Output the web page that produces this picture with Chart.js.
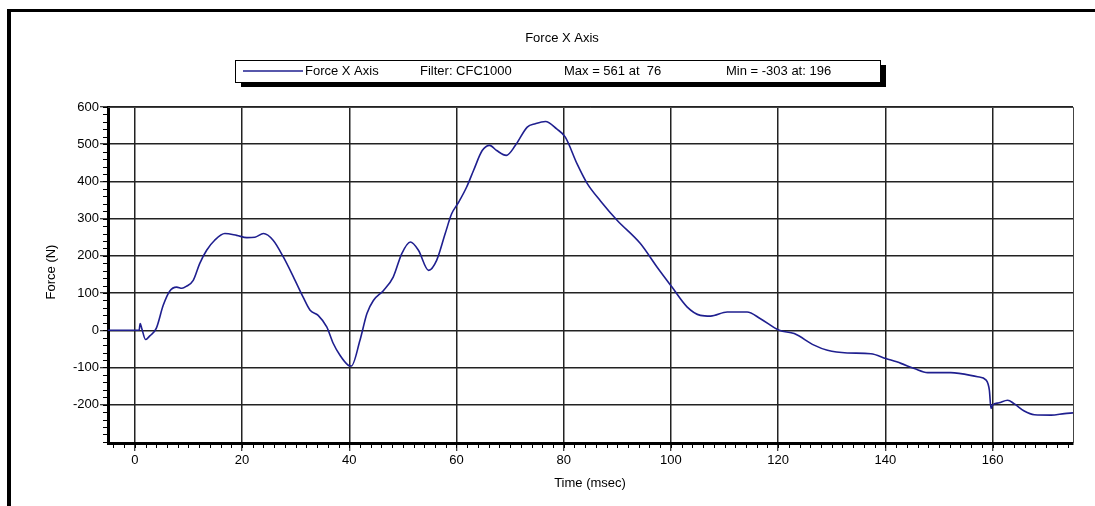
<!DOCTYPE html>
<html>
<head>
<meta charset="utf-8">
<script src="https://cdn.jsdelivr.net/npm/chart.js@4"></script>
<style>
  html, body { margin: 0; padding: 0; background: #fff; }
  #wrap { width: 1095px; height: 506px; }
</style>
</head>
<body>
<div id="wrap"><canvas id="forceChart" width="1095" height="506"></canvas></div>
<script>
// Force X Axis
const timeMs = [
  -5, 0.8, 1.0, 1.3, 2.0, 2.8, 4.0, 5.3, 6.5, 7.8, 8.8, 9.6, 10.9, 12.1, 13.4, 14.9,
  16.8, 19, 20.9, 22.4, 24, 25.8, 27.7, 29.6, 31.4, 32.7, 34.2, 35.8, 37, 38.3, 39.8,
  40.4, 42, 43.3, 44.5, 46.4, 48.2, 49.8, 51.4, 52.9, 54.8, 56.3, 57.9, 59.1, 60.4,
  61.9, 63.2, 64.8, 66.2, 67.5, 69.3, 71, 73.2, 74.7, 76.6, 78.7, 80.3, 82.5, 84.4,
  86.9, 90, 94.3, 97.4, 100.2, 103, 105.5, 107.4, 110.5, 114.2, 116.7, 120.2, 123,
  126.7, 129.2, 132.9, 137.3, 140.1, 142.9, 145.4, 147.9, 152.2, 157.2, 158.8, 159.4,
  159.7, 160, 161.2, 162.8, 164, 165.9, 167.8, 170.9, 173.4, 175
];
const forceN = [
  0, 0, 18, 5, -25, -15, 5, 67, 105, 116, 113, 118, 134, 179, 215, 242,
  260, 255, 249, 250, 260, 242, 197, 143, 89, 54, 40, 9, -35, -68, -94,
  -96, -27, 45, 80, 107, 143, 206, 237, 215, 161, 188, 260, 313, 344,
  385, 430, 483, 497, 483, 470, 497, 546, 555, 561, 541, 519, 447, 394,
  347, 295, 233, 170, 116, 63, 40, 38, 49, 49, 31, 0, -9,
  -40, -54, -61, -63, -76, -89, -103, -114, -114, -125, -134, -161,
  -210, -201, -195, -188, -197, -217, -227, -228, -224, -222
];

const xTicks = [0, 20, 40, 60, 80, 100, 120, 140, 160];
const yTicks = [-200, -100, 0, 100, 200, 300, 400, 500, 600];
const xMinorStep = 2;
const yMinorStep = 20;

const chartTitle = "Force X Axis";
const legendItems = ["Force X Axis", "Filter: CFC1000", "Max = 561 at  76", "Min = -303 at: 196"];
const xTitle = "Time (msec)";
const yTitle = "Force (N)";

const FONT = "13px 'Liberation Sans', Arial, sans-serif";
const LINE_COLOR = "#1f1f8f";

const points = timeMs.map((t, i) => ({ x: t, y: forceN[i] }));

// frame, title, legend box, axis titles and minor ticks
const decorPlugin = {
  id: "decor",
  beforeDraw(chart) {
    const ctx = chart.ctx;
    ctx.save();
    ctx.fillStyle = "#fff";
    ctx.fillRect(0, 0, chart.width, chart.height);
    ctx.restore();
  },
  afterDraw(chart) {
    const ctx = chart.ctx;
    const area = chart.chartArea;
    const xs = chart.scales.x;
    const ys = chart.scales.y;
    ctx.save();

    // outer frame (top + left only, picture is cropped)
    ctx.fillStyle = "#000";
    ctx.fillRect(7, 9, 1095 - 7, 3);
    ctx.fillRect(7, 9, 4, 506 - 9);

    // plot top/right border
    ctx.strokeStyle = "#444";
    ctx.lineWidth = 1;
    ctx.beginPath();
    ctx.moveTo(area.left, area.top + 0.5);
    ctx.lineTo(area.right + 0.5, area.top + 0.5);
    ctx.lineTo(area.right + 0.5, area.bottom);
    ctx.stroke();

    // minor ticks
    ctx.strokeStyle = "#000";
    ctx.lineWidth = 1;
    ctx.beginPath();
    for (let v = Math.ceil(xs.min / xMinorStep) * xMinorStep; v <= xs.max; v += xMinorStep) {
      const px = Math.round(xs.getPixelForValue(v)) + 0.5;
      ctx.moveTo(px, area.bottom);
      ctx.lineTo(px, area.bottom + 5);
    }
    for (let v = Math.ceil(ys.min / yMinorStep) * yMinorStep; v <= ys.max; v += yMinorStep) {
      const py = Math.round(ys.getPixelForValue(v)) + 0.5;
      ctx.moveTo(area.left, py);
      ctx.lineTo(area.left - 5, py);
    }
    ctx.stroke();

    // title
    ctx.fillStyle = "#000";
    ctx.font = FONT;
    ctx.textAlign = "center";
    ctx.textBaseline = "middle";
    ctx.fillText(chartTitle, 562, 38);

    // legend box with shadow
    const bx = 235, by = 60, bw = 645, bh = 22;
    ctx.fillStyle = "#000";
    ctx.fillRect(bx + 6, by + 5, bw, bh);
    ctx.fillStyle = "#fff";
    ctx.fillRect(bx, by, bw, bh);
    ctx.strokeStyle = "#000";
    ctx.lineWidth = 1;
    ctx.strokeRect(bx + 0.5, by + 0.5, bw, bh);

    ctx.strokeStyle = LINE_COLOR;
    ctx.lineWidth = 1.5;
    ctx.beginPath();
    ctx.moveTo(243, by + 11);
    ctx.lineTo(303, by + 11);
    ctx.stroke();

    const itemX = [305, 420, 564, 726];
    ctx.fillStyle = "#000";
    ctx.textAlign = "left";
    legendItems.forEach((txt, i) => ctx.fillText(txt, itemX[i], by + 11.5));

    // axis titles
    ctx.textAlign = "center";
    ctx.fillText(xTitle, 590, 483);
    ctx.translate(51, 272);
    ctx.rotate(-Math.PI / 2);
    ctx.fillText(yTitle, 0, 0);

    ctx.restore();
  }
};

new Chart(document.getElementById("forceChart"), {
  type: "line",
  data: {
    datasets: [{
      label: legendItems[0],
      data: points,
      borderColor: LINE_COLOR,
      borderWidth: 1.6,
      pointRadius: 0,
      fill: false,
      cubicInterpolationMode: "monotone",
    }],
  },
  options: {
    responsive: false,
    animation: false,
    layout: { padding: { left: 0, top: 107, right: 22, bottom: 0 } },
    plugins: {
      legend: { display: false },
      title: { display: false },
      tooltip: { enabled: false },
    },
    scales: {
      x: {
        type: "linear",
        min: -5,
        max: 175,
        afterBuildTicks: (scale) => { scale.ticks = xTicks.map((v) => ({ value: v })); },
        afterFit: (scale) => { scale.height = 63; },
        grid: { color: "#222", lineWidth: 1.5, tickLength: 8, tickColor: "#000", tickWidth: 1 },
        border: { color: "#000", width: 3 },
        ticks: { color: "#000", font: { family: "'Liberation Sans', Arial, sans-serif", size: 13 }, padding: 2, maxRotation: 0 },
      },
      y: {
        type: "linear",
        min: -303,
        max: 600,
        afterBuildTicks: (scale) => { scale.ticks = yTicks.map((v) => ({ value: v })); },
        afterFit: (scale) => { scale.width = 108; },
        grid: { color: "#222", lineWidth: 1.5, tickLength: 8, tickColor: "#000", tickWidth: 1 },
        border: { color: "#000", width: 3 },
        ticks: { color: "#000", font: { family: "'Liberation Sans', Arial, sans-serif", size: 13 }, padding: 1 },
      },
    },
  },
  plugins: [decorPlugin],
});
</script>
</body>
</html>
